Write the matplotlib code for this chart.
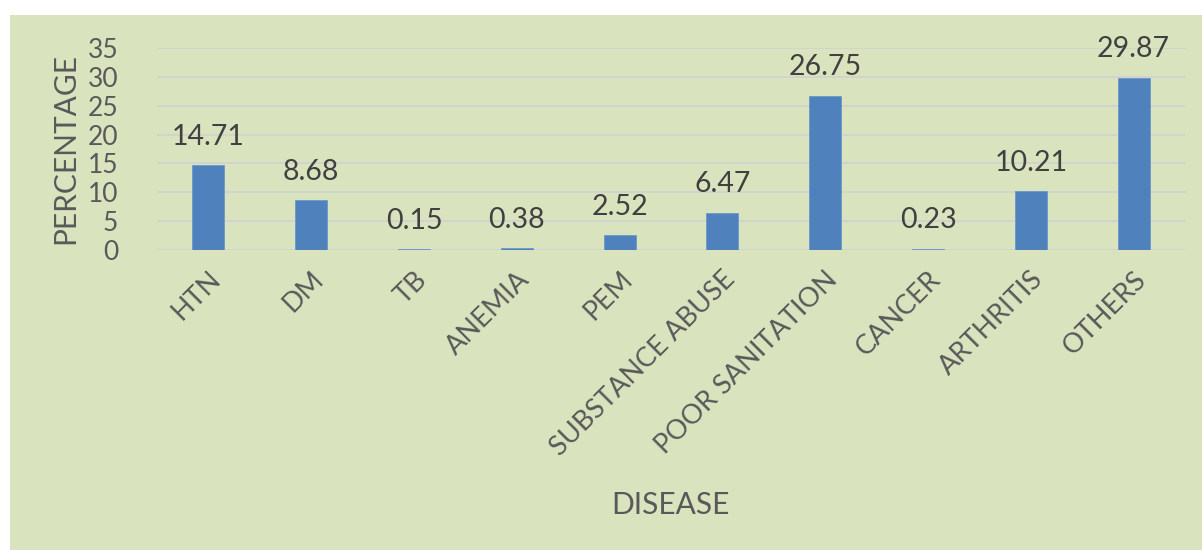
import matplotlib.pyplot as plt
from matplotlib.patches import Rectangle

diseases = ["HTN", "DM", "TB", "ANEMIA", "PEM", "SUBSTANCE ABUSE",
            "POOR SANITATION", "CANCER", "ARTHRITIS", "OTHERS"]
percent = [14.71, 8.68, 0.15, 0.38, 2.52, 6.47, 26.75, 0.23, 10.21, 29.87]
yticks = [0, 5, 10, 15, 20, 25, 30, 35]

plt.rcParams['font.family'] = ['Lato', 'DejaVu Sans']

fig = plt.figure(figsize=(12.02, 5.5), dpi=100)
fig.patch.set_facecolor('white')
bg = Rectangle((10 / 1202, 0), 1 - 10 / 1202, 1 - 15 / 550,
               transform=fig.transFigure, facecolor='#d9e4bf',
               edgecolor='none', zorder=-10)
fig.patches.append(bg)

ax = fig.add_axes([157 / 1202, 1 - 250 / 550, (1185 - 157) / 1202, (250 - 48) / 550])
ax.set_facecolor('none')
ax.set_zorder(1)

x = range(len(diseases))
bars = ax.bar(x, percent, width=0.31, color='#4f81bd', edgecolor='#6d97cc',
              linewidth=0.6, zorder=3)

for b, v in zip(bars, percent):
    ax.annotate(f"{v:.2f}", (b.get_x() + b.get_width() / 2, v),
                xytext=(0, 11), textcoords='offset points',
                ha='center', va='bottom', fontsize=20.5, color='#404040')

ax.set_xlim(-0.5, len(diseases) - 0.5)
ax.set_ylim(0, 35)
ax.set_yticks(yticks)
ax.yaxis.grid(True, color='#d0d0d0', linewidth=1.2, zorder=1)
ax.set_axisbelow(True)
for s in ax.spines.values():
    s.set_visible(False)
ax.tick_params(axis='both', length=0, labelsize=19, colors='#595959')
ax.tick_params(axis='y', pad=28)
ax.set_xticks(list(x))
ax.set_xticklabels(diseases, rotation=45, ha='right', rotation_mode='anchor',
                   fontsize=19.5)
ax.tick_params(axis='x', pad=12)

ax.set_ylabel("PERCENTAGE", fontsize=21.5, color='#595959', labelpad=6)
fig.text(670 / 1202, 1 - 505 / 550, "DISEASE", ha='center', va='center',
         fontsize=21.5, color='#595959')

fig.savefig('out.png', dpi=100, facecolor=fig.get_facecolor())
